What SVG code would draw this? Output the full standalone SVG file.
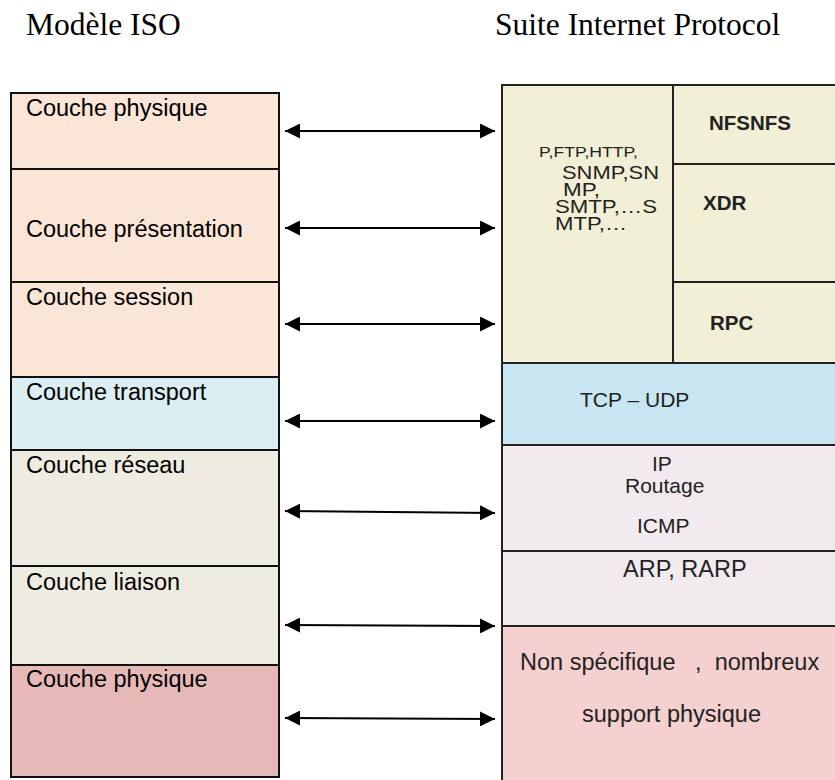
<svg xmlns="http://www.w3.org/2000/svg" width="835" height="780" viewBox="0 0 835 780">
  <style>
    .title { font-family: "Liberation Serif", "Times New Roman", serif; font-size: 31.5px; fill: #000; }
    .lbl { font-family: "Liberation Sans", Arial, sans-serif; font-size: 23.5px; fill: #000; }
    .txt { font-family: "Liberation Sans", Arial, sans-serif; font-size: 21px; fill: #222; }
    .app { font-family: "Liberation Sans", Arial, sans-serif; font-size: 18px; fill: #222; }
    .big { font-family: "Liberation Sans", Arial, sans-serif; font-size: 23.5px; fill: #222; }
    .bold { font-family: "Liberation Sans", Arial, sans-serif; font-size: 20.5px; font-weight: bold; fill: #222; }
    .box { stroke: #111; stroke-width: 2; }
    .rbox { stroke: #222; stroke-width: 2; }
    .link { stroke: #000; stroke-width: 2.2; fill: none; marker-start: url(#head); marker-end: url(#head); }
  </style>
  <defs>
    <marker id="head" viewBox="0 0 15 15" refX="15" refY="7.5" markerWidth="15" markerHeight="15" markerUnits="userSpaceOnUse" orient="auto-start-reverse">
      <path d="M0,0 L15,7.5 L0,15 z" fill="#000"/>
    </marker>
  </defs>

  <rect width="835" height="780" fill="#fff"/>

  <!-- headings -->
  <text class="title" x="26" y="35">Modèle ISO</text>
  <text class="title" x="495" y="35">Suite Internet Protocol</text>

  <!-- OSI model stack -->
  <g id="osi-physique-top">
    <rect class="box" x="11" y="93" width="268" height="76" fill="#FBE5D6"/>
    <text class="lbl" x="26" y="116">Couche physique</text>
  </g>
  <g id="osi-presentation">
    <rect class="box" x="11" y="169" width="268" height="113" fill="#FBE5D6"/>
    <text class="lbl" x="26" y="237">Couche présentation</text>
  </g>
  <g id="osi-session">
    <rect class="box" x="11" y="282" width="268" height="95" fill="#FBE5D6"/>
    <text class="lbl" x="26" y="305">Couche session</text>
  </g>
  <g id="osi-transport">
    <rect class="box" x="11" y="377" width="268" height="73" fill="#DAEEF3"/>
    <text class="lbl" x="26" y="400">Couche transport</text>
  </g>
  <g id="osi-reseau">
    <rect class="box" x="11" y="450" width="268" height="116" fill="#EEECE1"/>
    <text class="lbl" x="26" y="473">Couche réseau</text>
  </g>
  <g id="osi-liaison">
    <rect class="box" x="11" y="566" width="268" height="99" fill="#EEECE1"/>
    <text class="lbl" x="26" y="590">Couche liaison</text>
  </g>
  <g id="osi-physique">
    <rect class="box" x="11" y="665" width="268" height="112" fill="#E6B9B8"/>
    <text class="lbl" x="26" y="687">Couche physique</text>
  </g>

  <!-- Internet protocol suite stack -->
  <g id="ip-application">
    <rect class="rbox" x="502" y="85" width="171" height="278" fill="#F1F0D6"/>
    <text class="app" x="539" y="157" style="font-size:14.5px" textLength="99" lengthAdjust="spacingAndGlyphs">P,FTP,HTTP,</text>
    <text class="app" x="562" y="179" textLength="97" lengthAdjust="spacingAndGlyphs">SNMP,SN</text>
    <text class="app" x="563" y="196" textLength="37" lengthAdjust="spacingAndGlyphs">MP,</text>
    <text class="app" x="555" y="213" textLength="102" lengthAdjust="spacingAndGlyphs">SMTP,…S</text>
    <text class="app" x="555" y="230" textLength="72" lengthAdjust="spacingAndGlyphs">MTP,…</text>
  </g>
  <g id="ip-nfs">
    <rect class="rbox" x="673" y="85" width="175" height="79" fill="#F1F0D6"/>
    <text class="bold" x="709" y="130">NFSNFS</text>
  </g>
  <g id="ip-xdr">
    <rect class="rbox" x="673" y="164" width="175" height="118" fill="#F1F0D6"/>
    <text class="bold" x="703" y="210">XDR</text>
  </g>
  <g id="ip-rpc">
    <rect class="rbox" x="673" y="282" width="175" height="81" fill="#F1F0D6"/>
    <text class="bold" x="710" y="330">RPC</text>
  </g>
  <g id="ip-transport">
    <rect class="rbox" x="502" y="363" width="346" height="82" fill="#C8E6F1"/>
    <text class="txt" x="580" y="407">TCP – UDP</text>
  </g>
  <g id="ip-network">
    <rect class="rbox" x="502" y="445" width="346" height="106" fill="#F1EBEF"/>
    <text class="txt" x="652" y="471">IP</text>
    <text class="txt" x="625" y="493">Routage</text>
    <text class="txt" x="637" y="533">ICMP</text>
  </g>
  <g id="ip-arp">
    <rect class="rbox" x="502" y="551" width="346" height="75" fill="#F1EBEF"/>
    <text class="big" x="623" y="577">ARP, RARP</text>
  </g>
  <g id="ip-physical">
    <rect class="rbox" x="502" y="626" width="346" height="170" fill="#F4D0CF"/>
    <text class="big" x="520" y="670" xml:space="preserve">Non spécifique   ,  nombreux</text>
    <text class="big" x="582" y="722">support physique</text>
  </g>

  <!-- correspondence arrows -->
  <g id="connectors">
    <line class="link" x1="285" y1="131" x2="495" y2="131"/>
    <line class="link" x1="285" y1="228" x2="495" y2="228"/>
    <line class="link" x1="285" y1="324" x2="495" y2="324"/>
    <line class="link" x1="285" y1="421" x2="495" y2="421"/>
    <line class="link" x1="285" y1="511" x2="495" y2="513"/>
    <line class="link" x1="285" y1="625" x2="495" y2="626"/>
    <line class="link" x1="285" y1="718" x2="495" y2="719"/>
  </g>
</svg>
